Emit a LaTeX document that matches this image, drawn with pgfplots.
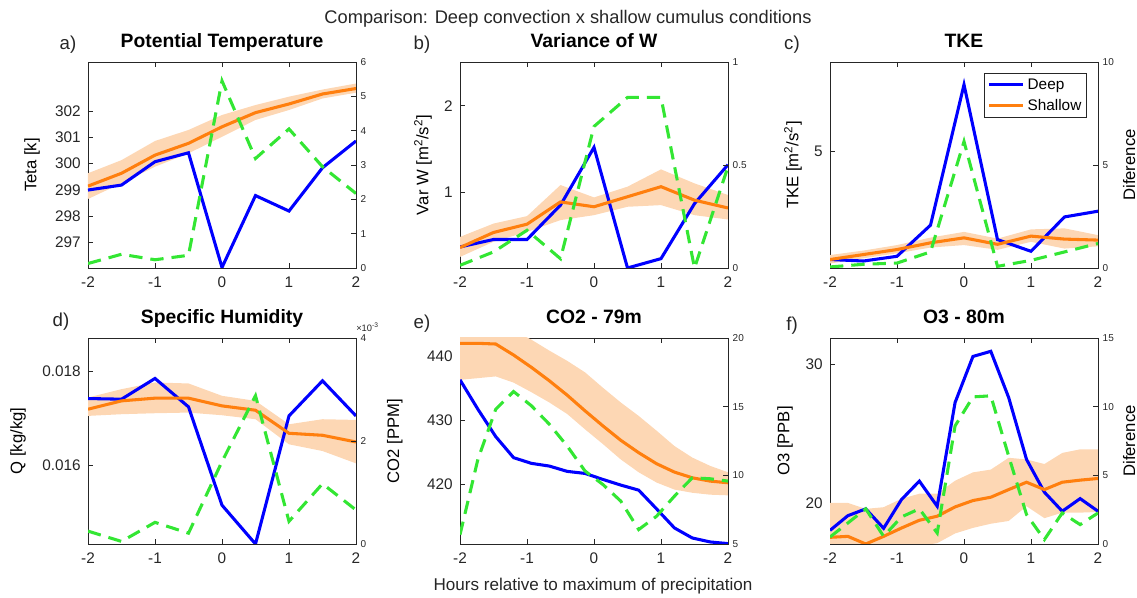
\documentclass[border=0pt]{standalone}
\usepackage{fontspec}
\setmainfont{Liberation Sans}
\usepackage{pgfplots}
\pgfplotsset{compat=1.18}
\definecolor{axgray}{RGB}{38,38,38}
\definecolor{deep}{RGB}{0,0,255}
\definecolor{shal}{RGB}{255,127,14}
\definecolor{band}{RGB}{253,215,180}
\definecolor{diff}{RGB}{51,230,51}
\pgfplotsset{
  common/.style={scale only axis, width=201pt, height=154.5pt, xmin=-2, xmax=2,
    tick align=inside, major tick length=3.5pt,
    axis line style={axgray, line width=0.5pt},
    every tick/.style={axgray, line width=0.5pt},
    /pgf/number format/assume math mode=true,
    scaled y ticks=false},
  leftax/.style={common, xtick={-2,-1,0,1,2}, xtick pos=both, ytick pos=left,
    tick label style={font=\fontsize{11.5}{13}\selectfont, text=axgray},
    xticklabel style={yshift=-3pt}, yticklabel style={xshift=-2pt},
    title style={font=\bfseries\fontsize{14.5}{17}\selectfont, anchor=base, at={(0.5,1)}, yshift=4.5pt}},
  ylab/.style={every axis y label/.style={at={(axis description cs:#1,0.5)}, rotate=90, anchor=center, font=\fontsize{12.5}{14}\selectfont}},
  rightax/.style={common, axis x line=none, axis y line*=right, ytick pos=right,
    tick label style={font=\fontsize{7.5}{9}\selectfont, text=axgray},
    every axis y label/.style={at={(axis description cs:1.116,0.5)}, rotate=90, anchor=center, font=\fontsize{12.5}{14}\selectfont}},
  bandst/.style={fill=band, draw=none, forget plot},
  deepst/.style={deep, line width=2.3pt},
  shalst/.style={shal, line width=2.3pt},
  diffst/.style={diff, line width=2.3pt, dash pattern=on 10pt off 6pt},
}
\begin{document}
\begin{tikzpicture}
\path[use as bounding box] (0,0) rectangle (852.75pt,448.5pt);
% ---------- a ----------
\begin{axis}[leftax, at={(66pt,247.5pt)}, ymin=296.02, ymax=303.87, ytick={297,298,299,300,301,302},
  title={Potential Temperature}, ylab=-0.209, ylabel={Teta [k]}]
\addplot[bandst] coordinates {(-2,299.63)(-1.5,300.13)(-1,300.86)(-0.5,301.28)(0,301.85)(0.5,302.23)(1,302.55)(1.5,302.82)(2,303.05)
 (2,302.70)(1.5,302.48)(1,302.04)(0.5,301.66)(0,301.02)(-0.5,300.39)(-1,299.88)(-1.5,299.25)(-2,298.65)} -- cycle;
\addplot[deepst] coordinates {(-2,298.99)(-1.5,299.18)(-1,300.07)(-0.5,300.41)(0,296.04)(0.5,298.78)(1,298.19)(1.5,299.84)(2,300.86)};
\addplot[shalst] coordinates {(-2,299.14)(-1.5,299.63)(-1,300.32)(-0.5,300.77)(0,301.40)(0.5,301.94)(1,302.27)(1.5,302.65)(2,302.86)};
\end{axis}
\begin{axis}[rightax, at={(66pt,247.5pt)}, ymin=0, ymax=6, ytick={0,1,2,3,4,5,6}]
\addplot[diffst] coordinates {(-2,0.13)(-1.5,0.40)(-1,0.24)(-0.5,0.37)(0,5.45)(0.5,3.19)(1,4.05)(1.5,2.95)(2,2.17)};
\end{axis}
% ---------- b ----------
\begin{axis}[leftax, at={(345pt,247.5pt)}, ymin=0.127, ymax=2.506, ytick={1,2},
  title={Variance of W}, ylab=-0.138, ylabel={Var W [m\textsuperscript{2}/s\textsuperscript{2}]}]
\addplot[bandst] coordinates {(-2,0.486)(-1.5,0.64)(-1,0.726)(-0.5,1.085)(0,0.942)(0.5,1.066)(1,1.266)(1.5,1.104)(2,0.97)
 (2,0.687)(1.5,0.737)(1,0.853)(0.5,0.834)(0,0.737)(-0.5,0.68)(-1,0.544)(-1.5,0.43)(-2,0.255)} -- cycle;
\addplot[deepst] coordinates {(-2,0.37)(-1.5,0.456)(-1,0.456)(-0.5,0.853)(0,1.52)(0.5,0.127)(1,0.235)(1.5,0.87)(2,1.32)};
\addplot[shalst] coordinates {(-2,0.363)(-1.5,0.537)(-1,0.633)(-0.5,0.89)(0,0.834)(0.5,0.95)(1,1.066)(1.5,0.91)(2,0.82)};
\end{axis}
\begin{axis}[rightax, at={(345pt,247.5pt)}, ymin=0, ymax=1, ytick={0,0.5,1}]
\addplot[diffst] coordinates {(-2,0.013)(-1.5,0.078)(-1,0.183)(-0.5,0.045)(0,0.687)(0.5,0.828)(1,0.828)(1.5,0.0)(2,0.492)};
\end{axis}
% ---------- c ----------
\begin{axis}[leftax, at={(622.5pt,247.5pt)}, ymin=0.3, ymax=8.57, ytick={5},
  title={TKE}, ylab=-0.138, ylabel={TKE [m\textsuperscript{2}/s\textsuperscript{2}]},
  legend style={at={(0.959,0.947)}, anchor=north east, draw=axgray, line width=0.5pt, fill=white,
    font=\fontsize{11.5}{13}\selectfont, inner xsep=2pt, inner ysep=2pt, row sep=2pt},
  legend cell align=left,
  legend image code/.code={\draw[#1] (0pt,0pt) -- (26pt,0pt);}]
\addplot[bandst] coordinates {(-2,0.82)(-1.5,1.0)(-1,1.22)(-0.5,1.52)(0,1.75)(0.5,1.48)(1,1.85)(1.5,1.89)(2,1.62)
 (2,1.17)(1.5,1.08)(1,1.35)(0.5,1.03)(0,1.22)(-0.5,1.12)(-1,0.89)(-1.5,0.69)(-2,0.48)} -- cycle;
\addplot[deepst] coordinates {(-2,0.64)(-1.5,0.58)(-1,0.77)(-0.5,2.02)(0,7.66)(0.5,1.44)(1,0.97)(1.5,2.35)(2,2.58)};
\addlegendentry{Deep}
\addplot[shalst] coordinates {(-2,0.64)(-1.5,0.84)(-1,1.04)(-0.5,1.31)(0,1.51)(0.5,1.25)(1,1.58)(1.5,1.46)(2,1.42)};
\addlegendentry{Shallow}
\end{axis}
\begin{axis}[rightax, at={(622.5pt,247.5pt)}, ymin=0, ymax=10, ytick={0,5,10}, ylabel={Diference}]
\addplot[diffst] coordinates {(-2,0.05)(-1.5,0.18)(-1,0.24)(-0.5,0.78)(0,6.14)(0.5,0.08)(1,0.37)(1.5,0.78)(2,1.19)};
\end{axis}
% ---------- d ----------
\begin{axis}[leftax, at={(66pt,40.5pt)}, ymin=0.014314, ymax=0.018714, ytick={0.016,0.018}, yticklabels={0.016,0.018},
  title={Specific Humidity}, ylab=-0.261, ylabel={Q [kg/kg]}]
\addplot[bandst] coordinates {(-2,0.017443)(-1.5,0.017621)(-1,0.017764)(-0.5,0.017743)(0,0.017479)(0.5,0.017371)(1,0.016871)(1.5,0.016979)(2,0.016964)
 (2,0.016036)(1.5,0.0163)(1,0.016443)(0.5,0.016979)(0,0.017064)(-0.5,0.017121)(-1,0.017107)(-1.5,0.017086)(-2,0.01705)} -- cycle;
\addplot[deepst] coordinates {(-2,0.017421)(-1.5,0.017407)(-1,0.01785)(-0.5,0.017243)(0,0.015143)(0.5,0.014314)(1,0.01705)(1.5,0.0178)(2,0.01705)};
\addplot[shalst] coordinates {(-2,0.017193)(-1.5,0.017371)(-1,0.017429)(-0.5,0.017429)(0,0.017264)(0.5,0.017171)(1,0.016679)(1.5,0.016636)(2,0.016493)};
\end{axis}
\begin{axis}[rightax, at={(66pt,40.5pt)}, ymin=0, ymax=0.004, ytick={0,0.002,0.004}, yticklabels={0,2,4}]
\addplot[diffst] coordinates {(-2,0.00025)(-1.5,0.00005)(-1,0.00042)(-0.5,0.00021)(0,0.00160)(0.5,0.00288)(1,0.00044)(1.5,0.00117)(2,0.00066)};
\end{axis}
% ---------- e ----------
\begin{axis}[leftax, at={(345pt,40.5pt)}, ymin=410.7, ymax=442.87, ytick={420,430,440},
  title={CO2 - 79m}, ylab=-0.243, ylabel={CO2 [PPM]}]
\addplot[bandst] coordinates {(-2,445)(-1.7333,445)(-1.4667,445)(-1.2,444)(-0.9333,442.6)(-0.6667,440.9)(-0.4,439.3)(-0.1333,437.5)(0.1333,435.1)(0.4,432.8)(0.6667,430.7)(0.9333,428.4)(1.2,426.0)(1.4667,424.2)(1.7333,422.9)(2,421.9)
 (2,418.3)(1.7333,418.4)(1.4667,418.7)(1.2,419.2)(0.9333,420.3)(0.6667,421.9)(0.4,423.9)(0.1333,426.3)(-0.1333,428.6)(-0.4,431.0)(-0.6667,432.8)(-0.9333,434.4)(-1.2,435.9)(-1.4667,436.87)(-1.7333,436.6)(-2,436.34)} -- cycle;
\addplot[deepst] coordinates {(-2,436.34)(-1.7333,431.75)(-1.4667,427.47)(-1.2,424.18)(-0.9333,423.29)(-0.6667,422.87)(-0.4,422.04)(-0.1333,421.72)(0.1333,420.78)(0.4,419.90)(0.6667,419.11)(0.9333,416.19)(1.2,413.21)(1.4667,411.64)(1.7333,411.02)(2,410.76)};
\addplot[shalst] coordinates {(-2,442.04)(-1.7333,442.04)(-1.4667,441.93)(-1.2,440.21)(-0.9333,438.28)(-0.6667,436.19)(-0.4,433.94)(-0.1333,431.49)(0.1333,429.14)(0.4,426.89)(0.6667,424.96)(0.9333,423.24)(1.2,421.93)(1.4667,421.04)(1.7333,420.52)(2,420.26)};
\end{axis}
\begin{axis}[rightax, at={(345pt,40.5pt)}, ymin=5, ymax=20, ytick={5,10,15,20}]
\addplot[diffst] coordinates {(-2,5.68)(-1.7333,11.16)(-1.4667,14.81)(-1.2,16.10)(-0.9333,15.06)(-0.6667,13.72)(-0.4,12.13)(-0.1333,10.31)(0.1333,9.33)(0.4,8.12)(0.6667,6.05)(0.9333,7.02)(1.2,8.48)(1.4667,9.82)(1.7333,9.75)(2,9.58)};
\end{axis}
% ---------- f ----------
\begin{axis}[leftax, at={(622.5pt,40.5pt)}, ymin=17.04, ymax=31.88, ytick={20,30},
  title={O3 - 80m}, ylab=-0.168, ylabel={O3 [PPB]}]
\addplot[bandst] coordinates {(-2,20.0)(-1.7333,20.0)(-1.4667,19.57)(-1.2,19.69)(-0.9333,20.3)(-0.6667,20.66)(-0.4,20.66)(-0.1333,21.6)(0.1333,22.2)(0.4,22.4)(0.6667,23.25)(0.9333,23.13)(1.2,22.8)(1.4667,23.6)(1.7333,23.86)(2,23.86)
 (2,19.35)(1.7333,19.3)(1.4667,19.3)(1.2,18.9)(0.9333,19.76)(0.6667,18.7)(0.4,18.5)(0.1333,18.2)(-0.1333,17.8)(-0.4,17.1)(-0.6667,16.9)(-0.9333,16.7)(-1.2,16.5)(-1.4667,16.3)(-1.7333,16.5)(-2,16.5)} -- cycle;
\addplot[deepst] coordinates {(-2,18.02)(-1.7333,19.08)(-1.4667,19.57)(-1.2,18.17)(-0.9333,20.24)(-0.6667,21.57)(-0.4,19.76)(-0.1333,27.23)(0.1333,30.55)(0.4,30.92)(0.6667,27.59)(0.9333,23.13)(1.2,20.77)(1.4667,19.40)(1.7333,20.31)(2,19.40)};
\addplot[shalst] coordinates {(-2,17.52)(-1.7333,17.59)(-1.4667,17.04)(-1.2,17.59)(-0.9333,18.19)(-0.6667,18.75)(-0.4,19.04)(-0.1333,19.71)(0.1333,20.17)(0.4,20.41)(0.6667,20.96)(0.9333,21.49)(1.2,20.96)(1.4667,21.49)(1.7333,21.64)(2,21.76)};
\end{axis}
\begin{axis}[rightax, at={(622.5pt,40.5pt)}, ymin=0, ymax=15, ytick={0,5,10,15}, ylabel={Diference}]
\addplot[diffst] coordinates {(-2,0.51)(-1.7333,1.53)(-1.4667,2.56)(-1.2,0.56)(-0.9333,1.97)(-0.6667,2.56)(-0.4,0.80)(-0.1333,8.60)(0.1333,10.71)(0.4,10.79)(0.6667,6.40)(0.9333,2.14)(1.2,0.32)(1.4667,2.26)(1.7333,1.41)(2,2.26)};
\end{axis}
% ---------- texts ----------
\node[anchor=base, font=\fontsize{13.7}{16}\selectfont, text=axgray] at (426pt,430.5pt) {Comparison: Deep convection x shallow cumulus conditions};
\node[anchor=base, font=\fontsize{12.8}{15}\selectfont, text=axgray] at (444.75pt,5.25pt) {Hours relative to maximum of precipitation};
\begin{scope}[every node/.style={font=\fontsize{14}{16}\selectfont, text=axgray, anchor=center}]
\node at (51pt,414.75pt) {a)};
\node at (316.5pt,414.75pt) {b)};
\node at (594pt,414.75pt) {c)};
\node at (45.75pt,207.4pt) {d)};
\node at (316.5pt,205.9pt) {e)};
\node at (594pt,204.4pt) {f)};
\end{scope}
\node[anchor=base west, inner sep=0pt, font=\fontsize{7}{8}\selectfont, text=axgray] at (267pt,199.5pt) {×10\textsuperscript{-3}};
\end{tikzpicture}
\end{document}
